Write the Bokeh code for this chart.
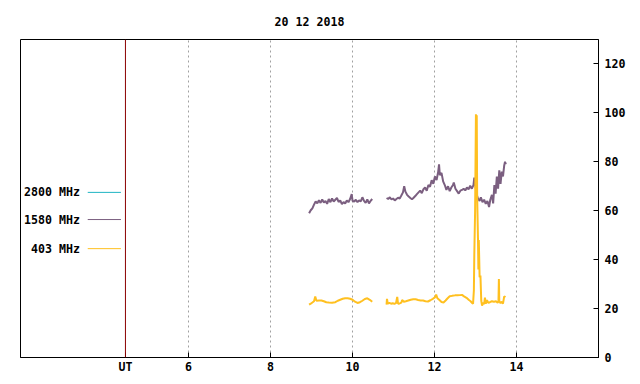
import math
from bokeh.plotting import figure
from bokeh.models import FixedTicker, Span, Label, LinearAxis, Range1d
from bokeh.core.properties import value
from bokeh.embed import file_html
from bokeh.resources import INLINE

NaN = float("nan")

title_text = "20 12 2018"
hour_ticks = [6, 8, 10, 12, 14]
ut_pos = 4.46
y_ticks = [0, 20, 40, 60, 80, 100, 120]

series_names = ["2800 MHz", "1580 MHz", "403 MHz"]
series_colors = ["#1fb4c3", "#7b5f80", "#ffc020"]

# 2800 MHz: no visible data on this day
t2800 = []
v2800 = []

# 1580 MHz
t1580 = [8.94, 8.98, 9.02, 9.06, 9.10, 9.14, 9.18, 9.22, 9.26, 9.30, 9.34, 9.38, 9.42, 9.46,
         9.50, 9.54, 9.58, 9.62, 9.66, 9.70, 9.74, 9.78, 9.82, 9.86, 9.90, 9.94, 9.98, 10.00,
         10.04, 10.08, 10.12, 10.16, 10.20, 10.24, 10.28, 10.32, 10.36, 10.40, 10.44, 10.48,
         10.65,
         10.83, 10.87, 10.91, 10.95, 10.99, 11.03, 11.07, 11.11, 11.15, 11.19, 11.23, 11.26,
         11.29, 11.33, 11.37, 11.41, 11.45, 11.49, 11.53, 11.57, 11.61, 11.65, 11.69, 11.73,
         11.77, 11.81, 11.85, 11.89, 11.93, 11.97, 12.01, 12.05, 12.09, 12.11, 12.13, 12.17,
         12.21, 12.25, 12.29, 12.33, 12.37, 12.41, 12.45, 12.47, 12.51, 12.55, 12.59, 12.63,
         12.67, 12.71, 12.75, 12.79, 12.83, 12.87, 12.91, 12.95, 12.97, 13.00, 13.03, 13.06,
         13.10, 13.13, 13.17, 13.21, 13.25, 13.29, 13.33, 13.36, 13.40, 13.43, 13.46, 13.49,
         13.52, 13.55, 13.58, 13.61, 13.64, 13.67, 13.70, 13.72, 13.74]
v1580 = [59.0, 60.2, 61.0, 62.5, 63.8, 63.0, 64.3, 63.2, 64.6, 63.4, 64.0, 62.8, 64.8, 63.5,
         65.0, 63.8, 64.5, 65.2, 63.6, 64.2, 62.7, 63.5, 63.0, 64.2, 63.5, 64.8, 66.8, 64.0,
         63.8, 64.5, 63.5, 64.2, 63.8, 65.5, 64.0, 63.2, 64.6, 63.0, 64.0, 64.8,
         NaN,
         65.2, 64.8, 65.5, 64.6, 65.0, 64.2, 64.8, 65.3, 65.0, 66.2, 67.5, 70.0,
         67.8, 66.5, 65.8, 65.2, 64.7, 65.3, 66.0, 66.8, 67.5, 68.2, 67.2, 68.8,
         69.5, 68.2, 70.5, 69.8, 72.5, 71.0, 74.0, 72.5, 76.0, 79.0, 74.5, 75.5,
         72.0, 70.5, 68.5, 70.0, 68.0, 69.5, 70.5, 71.5, 69.0, 68.0, 67.0, 68.2,
         68.5, 69.0, 68.3, 69.5, 68.8, 70.2, 69.0, 70.5, 73.5, 70.0, 66.5, 65.0,
         64.0, 65.5, 63.5, 64.5, 62.8, 64.0, 61.5, 64.5, 66.5, 63.0, 70.5, 67.0,
         74.0, 69.0, 76.5, 71.0, 76.0, 74.0, 78.5, 80.0, 79.0]

# 403 MHz
t403 = [8.94, 8.98, 9.02, 9.06, 9.09, 9.12, 9.18, 9.24, 9.30, 9.36, 9.42, 9.50, 9.58, 9.64,
        9.70, 9.76, 9.82, 9.88, 9.94, 10.00, 10.06, 10.12, 10.18, 10.24, 10.30, 10.36, 10.42,
        10.48,
        10.65,
        10.83, 10.84, 10.86, 10.90, 10.94, 10.98, 11.02, 11.06, 11.09, 11.11, 11.15, 11.19,
        11.21, 11.25, 11.30, 11.36, 11.42, 11.48, 11.54, 11.60, 11.66, 11.72, 11.78, 11.84,
        11.90, 11.96, 12.01, 12.04, 12.07, 12.12, 12.17, 12.22, 12.27, 12.32, 12.37, 12.43,
        12.50, 12.56, 12.62, 12.67, 12.72, 12.78, 12.84, 12.88, 12.92, 12.94, 12.96, 12.97,
        12.99, 13.01, 13.02, 13.03, 13.04, 13.06, 13.07, 13.08, 13.10, 13.12, 13.14, 13.16,
        13.18, 13.21, 13.23, 13.25, 13.28, 13.31, 13.35, 13.40, 13.45, 13.50, 13.54, 13.56,
        13.57, 13.58, 13.61, 13.64, 13.67, 13.70, 13.73]
v403 = [21.6, 22.0, 22.5, 23.0, 24.9, 23.2, 23.3, 23.3, 23.0, 22.6, 22.5, 22.4, 22.6, 23.2,
        23.6, 24.0, 24.2, 24.2, 24.0, 23.6, 22.8, 22.3, 22.6, 23.2, 23.9, 24.2, 23.6,
        22.8,
        NaN,
        21.6, 24.0, 22.0, 22.3, 22.0, 22.2, 21.9, 22.2, 24.8, 22.0, 22.1, 22.4,
        23.5, 22.8, 23.0, 23.3, 23.6, 23.8, 23.8, 23.5, 23.3, 23.3, 23.0, 22.9,
        23.4, 24.0, 24.6, 25.7, 24.2, 23.5, 22.7, 22.5, 23.3, 24.2, 25.0, 25.2,
        25.4, 25.4, 25.5, 25.6, 25.0, 24.4, 23.5, 23.0, 22.2, 22.0, 27.5, 41.7,
        60.0, 99.4, 85.0, 99.0, 65.6, 48.6, 36.0, 48.0, 32.8, 33.5, 23.2, 21.2,
        22.5, 21.8, 24.5, 22.0, 23.5, 22.3, 22.6, 23.0, 22.8, 23.0, 22.4, 23.0,
        32.1, 23.0, 22.2, 22.8, 22.0, 25.0, 24.6]

font = "DejaVu Sans Mono"
fsize = "11.6px"

p = figure(width=632, height=376, x_range=Range1d(1.9, 16.0), y_range=Range1d(0, 130),
           output_backend="svg", toolbar_location=None,
           x_axis_location=None, y_axis_location=None,
           min_border_left=20, min_border_right=34, min_border_top=39, min_border_bottom=19)

p.title.text = title_text
p.title.align = "center"
p.title.text_font = font
p.title.text_font_size = fsize
p.title.text_font_style = "bold"
p.title.text_color = "black"
p.title.offset = 0
p.title.standoff = 21

p.outline_line_color = "black"
p.outline_line_width = 1
p.outline_line_alpha = 1
p.background_fill_color = "white"
p.border_fill_color = "white"

# bottom axis
xaxis = LinearAxis(ticker=FixedTicker(ticks=[ut_pos] + hour_ticks))
xaxis.major_label_overrides = {ut_pos: "UT"}
xaxis.major_tick_in = 5
xaxis.major_tick_out = 0
xaxis.minor_tick_line_color = None
xaxis.axis_line_color = "black"
xaxis.major_label_text_font = font
xaxis.major_label_text_font_size = fsize
xaxis.major_label_text_font_style = "bold"
xaxis.major_label_text_color = "black"
xaxis.major_label_standoff = 2
p.add_layout(xaxis, "below")

# right axis
yaxis = LinearAxis(ticker=FixedTicker(ticks=y_ticks))
yaxis.major_tick_in = 5
yaxis.major_tick_out = 0
yaxis.minor_tick_line_color = None
yaxis.axis_line_color = "black"
yaxis.major_label_text_font = font
yaxis.major_label_text_font_size = fsize
yaxis.major_label_text_font_style = "bold"
yaxis.major_label_text_color = "black"
yaxis.major_label_standoff = 6
p.add_layout(yaxis, "right")

p.xgrid.ticker = FixedTicker(ticks=hour_ticks)
p.xgrid.grid_line_color = "#a0a0a0"
p.xgrid.grid_line_dash = "2 3"
p.xgrid.grid_line_width = 1
p.ygrid.grid_line_color = None

p.add_layout(Span(location=ut_pos, dimension="height", line_color="#8b0000", line_width=1))

# data lines
if t2800:
    p.line(t2800, v2800, line_color=series_colors[0], line_width=1)
p.line(t1580, v1580, line_color=series_colors[1], line_width=2)
p.line(t403, v403, line_color=series_colors[2], line_width=2)

# legend (left side)
leg_y = [67.5, 56.4, 44.5]
for name, col, yy in zip(series_names, series_colors, leg_y):
    p.add_layout(Label(x=3.35, y=yy, text=name, text_align="right", text_baseline="middle",
                       text_font=font, text_font_size=fsize, text_font_style="bold",
                       text_color="black"))
    p.line([3.54, 4.35], [yy, yy], line_color=col, line_width=1)

open("out.html", "w").write(file_html(p, INLINE))
